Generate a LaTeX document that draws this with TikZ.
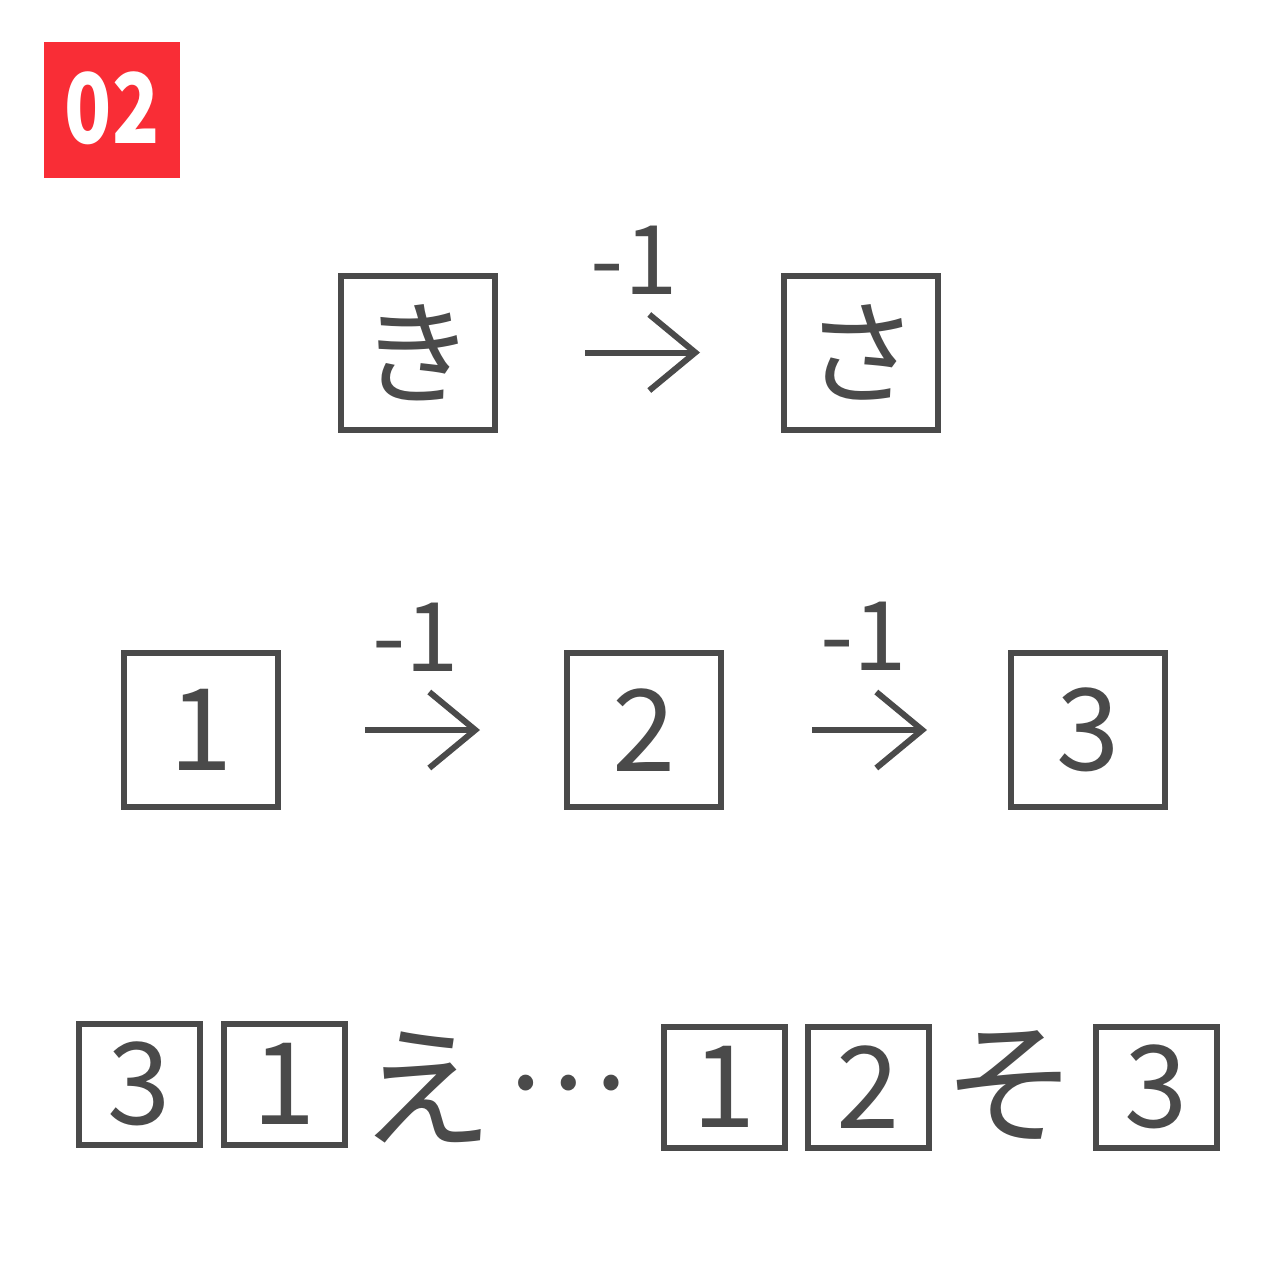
\documentclass[tikz,border=0pt]{standalone}
\usepackage{fontspec}
\newfontfamily\cjk{Noto Sans CJK JP}
\usetikzlibrary{arrows.meta}
\definecolor{ink}{HTML}{4A4A4A}
\definecolor{badgered}{RGB}{249,45,54}
\tikzset{
  bigbox/.style={draw=ink, line width=6pt, minimum size=154pt, inner sep=0pt, text=ink, font=\cjk\fontsize{114}{114}\selectfont},
  smallbox/.style={draw=ink, line width=6pt, minimum size=121pt, inner sep=0pt, text=ink, font=\cjk\fontsize{114}{114}\selectfont},
  glyph/.style={inner sep=0pt, text=ink, font=\cjk\fontsize{114}{114}\selectfont},
  bigglyph/.style={inner sep=0pt, text=ink, font=\cjk\fontsize{134}{134}\selectfont},
  steplabel/.style={inner sep=0pt, text=ink, font=\cjk\fontsize{96}{96}\selectfont},
  arr/.style={draw=ink, line width=6pt, -{Straight Barb[length=46pt,width=76pt]}},
}
\begin{document}
\begin{tikzpicture}[x=1pt,y=-1pt]
\useasboundingbox (0,0) rectangle (1280,1280);
% badge
\node[fill=badgered, minimum size=136pt, inner sep=0pt] (badge) at (112,110) {};
\node[inner sep=0pt, text=white, font=\cjk\bfseries\fontsize{97}{97}\selectfont] (num) at (112,108.5) {\scalebox{0.8}[1]{02}};
% row 1
\node[bigbox] (ki) at (417.5,352.5) {き};
\node[bigbox] (sa) at (861,352.5) {さ};
\draw[arr, shorten <=87.5pt, shorten >=81pt] (ki) -- (sa);
\node[steplabel] (m1) at (634,260) {-1};
% row 2
\node[bigbox] (n1) at (201,730) {1};
\node[bigbox] (n2) at (644,730) {2};
\node[bigbox] (n3) at (1088,730) {3};
\draw[arr, shorten <=84pt, shorten >=84pt] (n1) -- (n2);
\draw[arr, shorten <=88pt, shorten >=81pt] (n2) -- (n3);
\node[steplabel] (m2) at (415.5,637) {-1};
\node[steplabel] (m3) at (863.5,636) {-1};
% row 3
\node[smallbox] (r1) at (139.5,1084) {3};
\node[smallbox] (r2) at (284,1084) {1};
\node[bigglyph] (e) at (426.5,1087.5) {え};
\node[glyph] (dots) at (567,1083) {…};
\node[smallbox] (r3) at (724,1087) {1};
\node[smallbox] (r4) at (868,1087) {2};
\node[bigglyph] (so) at (1010.5,1086) {そ};
\node[smallbox] (r5) at (1156,1087) {3};
\end{tikzpicture}
\end{document}
